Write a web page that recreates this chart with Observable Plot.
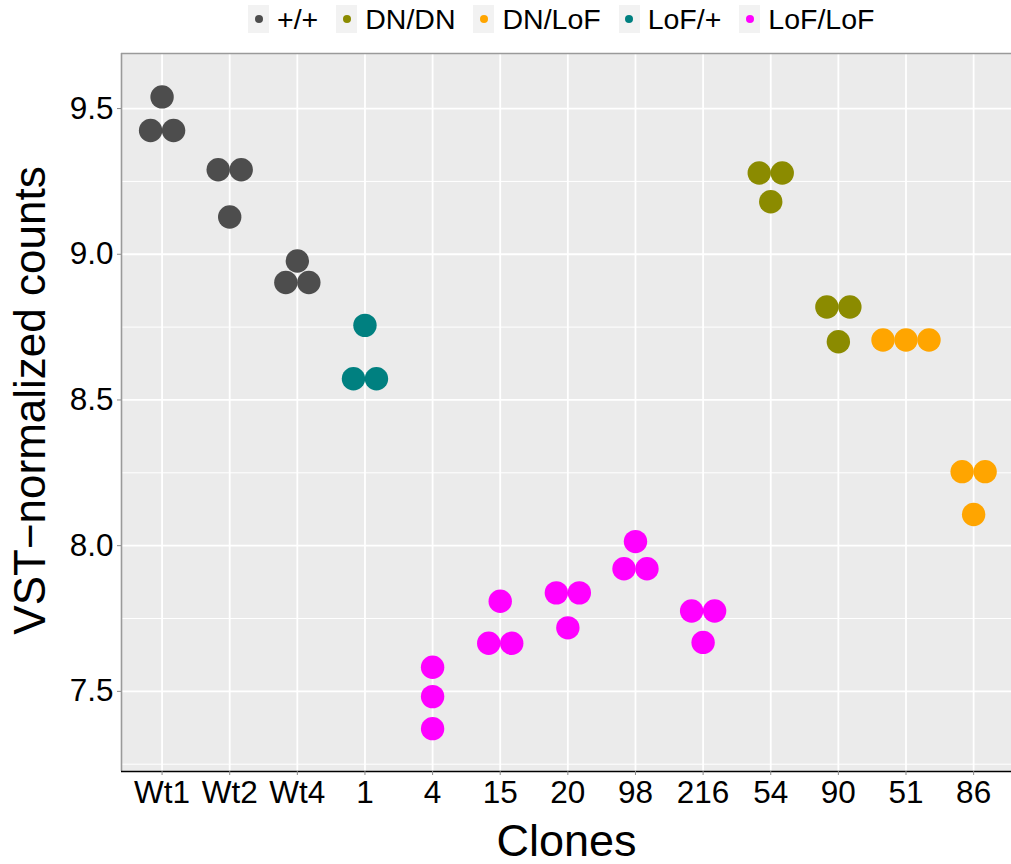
<!DOCTYPE html>
<html>
<head>
<meta charset="utf-8">
<script src="https://cdn.jsdelivr.net/npm/d3@7"></script>
<script src="https://cdn.jsdelivr.net/npm/@observablehq/plot@0.6"></script>
<style>
  html, body { margin: 0; padding: 0; background: #ffffff; }
  body { width: 1011px; height: 864px; overflow: hidden; font-family: "Liberation Sans", Arial, sans-serif; }
  #legend { position: relative; height: 45px; }
  #legend .items { position: absolute; left: 248px; top: 5px; display: flex; align-items: center; }
  #legend .item { display: flex; align-items: center; margin-right: 18px; }
  #legend .key { width: 21px; height: 28px; background: #F2F2F2; display: flex; align-items: center; justify-content: center; }
  #legend .dot { width: 8px; height: 8px; border-radius: 50%; }
  #legend .lab { margin-left: 8px; font-size: 28.5px; line-height: 28px; color: #000; }
  #chart svg { display: block; overflow: visible; }
</style>
</head>
<body>
<div id="legend"><div class="items"></div></div>
<div id="chart"></div>
<script>
// ---- data ----
const clones = ["Wt1", "Wt2", "Wt4", "1", "4", "15", "20", "98", "216", "54", "90", "51", "86"];
const genotype = ["+/+", "+/+", "+/+", "LoF/+", "LoF/LoF", "LoF/LoF", "LoF/LoF", "LoF/LoF", "LoF/LoF", "DN/DN", "DN/DN", "DN/LoF", "DN/LoF"];
const values = [
  [9.540, 9.425, 9.425],
  [9.290, 9.290, 9.128],
  [8.977, 8.903, 8.903],
  [8.756, 8.573, 8.573],
  [7.583, 7.482, 7.372],
  [7.809, 7.665, 7.665],
  [7.838, 7.838, 7.718],
  [8.014, 7.921, 7.921],
  [7.776, 7.776, 7.668],
  [9.279, 9.279, 9.180],
  [8.819, 8.819, 8.700],
  [8.706, 8.706, 8.706],
  [8.254, 8.254, 8.107]
];
const groups = ["+/+", "DN/DN", "DN/LoF", "LoF/+", "LoF/LoF"];
const groupColors = ["#4D4D4D", "#8B8B00", "#FFA500", "#008080", "#FF00FF"];
const yMajor = [7.5, 8.0, 8.5, 9.0, 9.5];
const yMinor = [7.25, 7.75, 8.25, 8.75, 9.25];

// ---- layout ----
const W = 1011, H = 819;
const mL = 121, mR = 0, mT = 8, mB = 93;
const xDomain = [-0.6, 12.56];
const yDomain = [7.225, 9.689];
const R = 11.7;
const pxPerUnit = (W - mL - mR) / (xDomain[1] - xDomain[0]);
const step = (2 * R - 0.4) / pxPerUnit;

// center-stack dots that share the same binned value (dotplot style)
const rows = [];
clones.forEach((c, i) => {
  const vals = values[i];
  const counts = d3.rollup(vals, v => v.length, v => v);
  const seen = new Map();
  vals.forEach(v => {
    const n = counts.get(v);
    const k = seen.get(v) || 0;
    seen.set(v, k + 1);
    rows.push({clone: c, geno: genotype[i], value: v, xpos: i + (k - (n - 1) / 2) * step});
  });
});

// ---- legend ----
const items = d3.select("#legend .items");
groups.forEach((g, i) => {
  const it = items.append("div").attr("class", "item");
  it.append("div").attr("class", "key").append("div").attr("class", "dot").style("background", groupColors[i]);
  it.append("div").attr("class", "lab").text(g);
});

// ---- chart ----
const chart = Plot.plot({
  width: W,
  height: H,
  marginLeft: mL,
  marginRight: mR,
  marginTop: mT,
  marginBottom: mB,
  style: {fontFamily: "'Liberation Sans', Arial, sans-serif", color: "#000", background: "#fff", overflow: "visible"},
  x: {type: "linear", domain: xDomain, axis: null},
  y: {type: "linear", domain: yDomain, axis: null},
  color: {domain: groups, range: groupColors},
  marks: [
    Plot.frame({fill: "#EBEBEB", stroke: null}),
    Plot.ruleY(yMinor, {stroke: "#FFFFFF", strokeWidth: 1}),
    Plot.ruleY(yMajor, {stroke: "#FFFFFF", strokeWidth: 1.8}),
    Plot.ruleX(d3.range(clones.length), {stroke: "#FFFFFF", strokeWidth: 1.8}),
    Plot.ruleY([yDomain[1]], {stroke: "#9A9A9A", strokeWidth: 1.6}),
    Plot.ruleX([xDomain[0]], {stroke: "#9A9A9A", strokeWidth: 1.6}),
    Plot.ruleY([yDomain[0]], {stroke: "#000000", strokeWidth: 1.6}),
    Plot.dot(rows, {x: "xpos", y: "value", fill: "geno", r: R, stroke: null}),
    Plot.axisY({
      ticks: yMajor, tickFormat: d3.format(".1f"), tickSize: 4, tickPadding: 4,
      fontSize: 31.5, stroke: "#8A8A8A", fill: "#000", label: null
    }),
    Plot.axisX({
      ticks: d3.range(clones.length), tickFormat: i => clones[i], tickSize: 4, tickPadding: 5,
      fontSize: 31.5, stroke: "#8A8A8A", fill: "#000", label: null
    }),
    Plot.text(["Clones"], {text: d => d, frameAnchor: "bottom", textAnchor: "middle", dy: 84, lineAnchor: "bottom", fontSize: 45, fill: "#000"}),
    Plot.text(["VST\u2212normalized counts"], {text: d => d, frameAnchor: "left", textAnchor: "middle", rotate: -90, dx: -77, dy: -12, lineAnchor: "bottom", fontSize: 44, fill: "#000"})
  ]
});
document.getElementById("chart").appendChild(chart);
</script>
</body>
</html>
